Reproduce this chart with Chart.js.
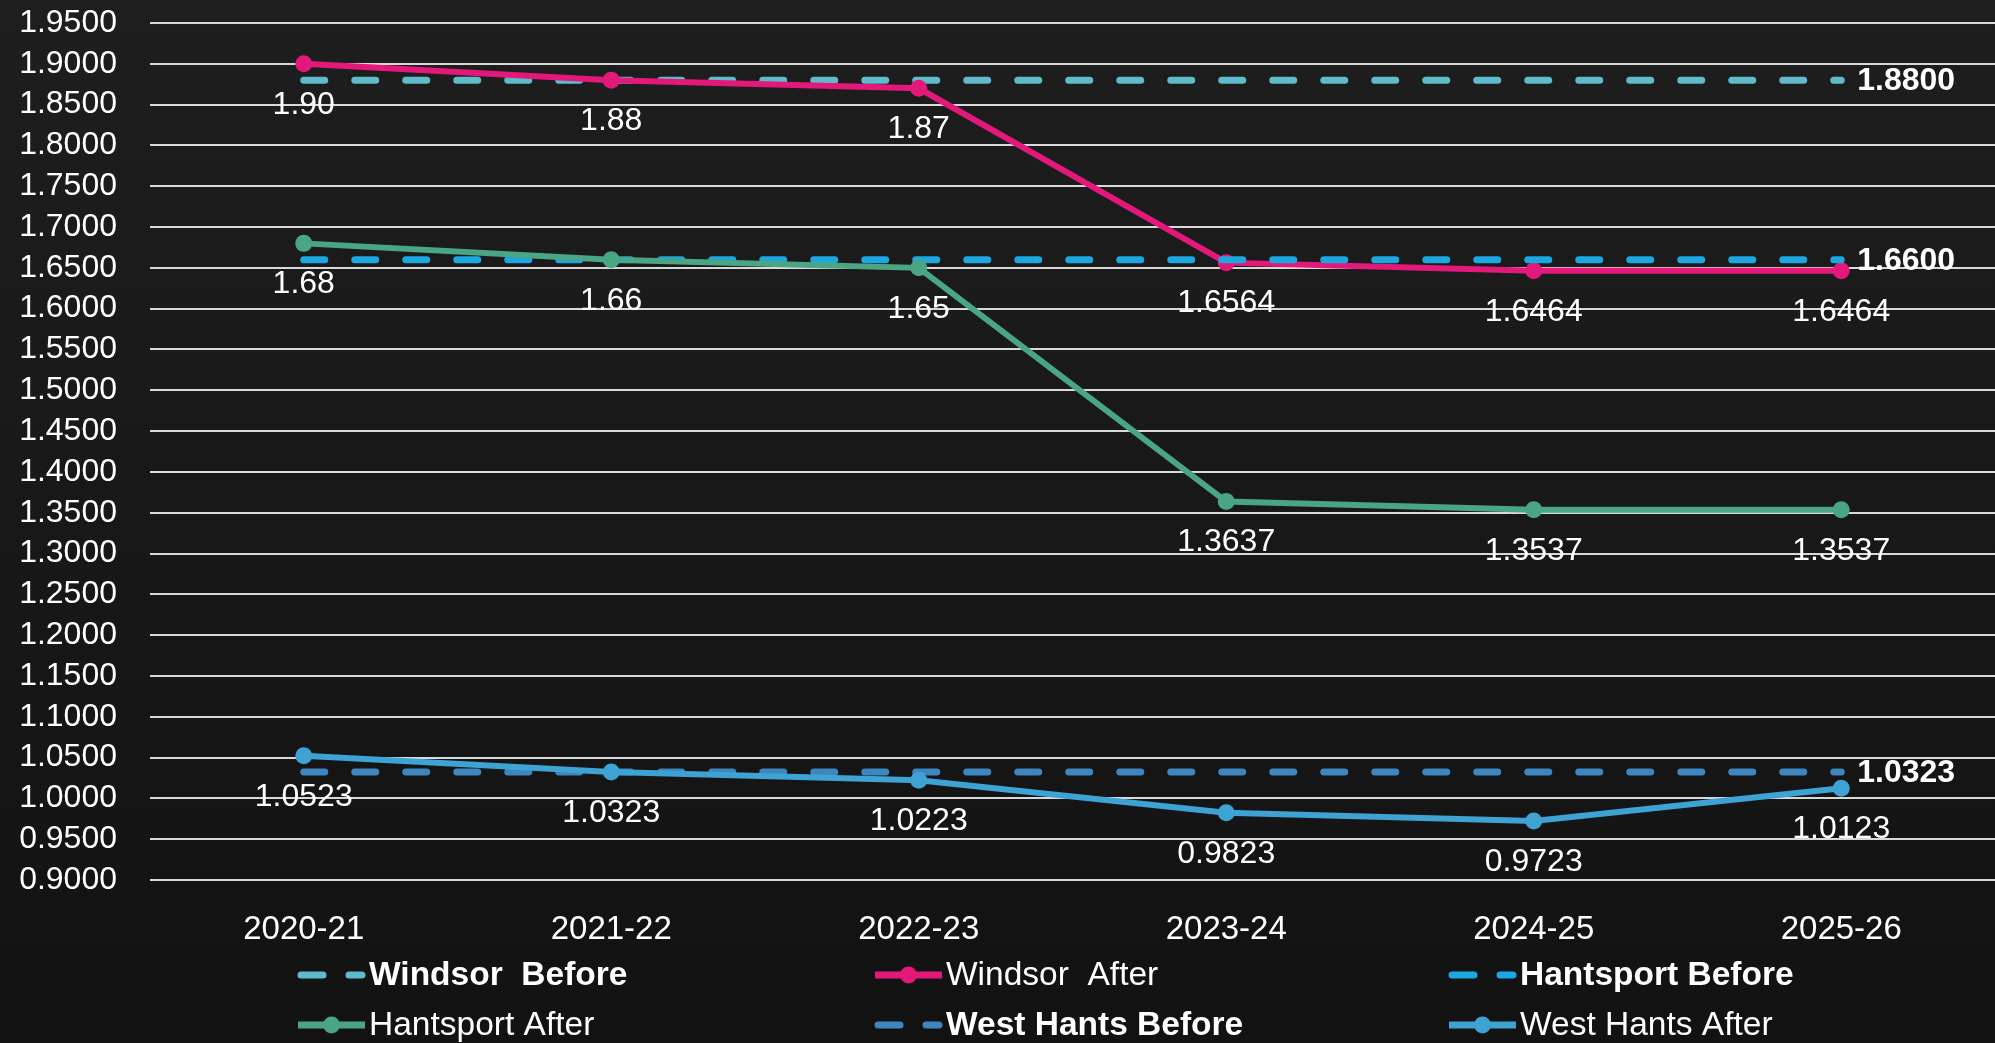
<!DOCTYPE html>
<html>
<head>
<meta charset="utf-8">
<script src="https://cdn.jsdelivr.net/npm/chart.js@4/dist/chart.umd.min.js"></script>
<style>
  html, body { margin: 0; padding: 0; background: #1a1a1a; overflow: hidden; }
  #wrap { width: 1995px; height: 1043px; }
</style>
</head>
<body>
<div id="wrap"><canvas id="c" width="1995" height="1043"></canvas></div>
<script>
// ---------- data ----------
const categories = ['2020-21', '2021-22', '2022-23', '2023-24', '2024-25', '2025-26'];

const windsorBefore = [1.88, 1.88, 1.88, 1.88, 1.88, 1.88];
const windsorAfter = [1.90, 1.88, 1.87, 1.6564, 1.6464, 1.6464];
const windsorAfterLabels = ['1.90', '1.88', '1.87', '1.6564', '1.6464', '1.6464'];

const hantsportBefore = [1.66, 1.66, 1.66, 1.66, 1.66, 1.66];
const hantsportAfter = [1.68, 1.66, 1.65, 1.3637, 1.3537, 1.3537];
const hantsportAfterLabels = ['1.68', '1.66', '1.65', '1.3637', '1.3537', '1.3537'];

const westHantsBefore = [1.0323, 1.0323, 1.0323, 1.0323, 1.0323, 1.0323];
const westHantsAfter = [1.0523, 1.0323, 1.0223, 0.9823, 0.9723, 1.0123];
const westHantsAfterLabels = ['1.0523', '1.0323', '1.0223', '0.9823', '0.9723', '1.0123'];

const beforeEndLabels = ['1.8800', '1.6600', '1.0323'];

const yMin = 0.9, yMax = 1.95, yStep = 0.05;

const seriesNames = ['Windsor  Before', 'Windsor  After', 'Hantsport Before', 'Hantsport After', 'West Hants Before', 'West Hants After'];
const seriesColors = ['#5fbac9', '#e2187b', '#1ca7e0', '#4aa584', '#3d86c0', '#3ea2d3'];

// ---------- datasets ----------
const FONT = '"Liberation Sans", Arial, sans-serif';

function beforeDs(i, data, endLabel) {
  return {
    label: seriesNames[i], data, kind: 'before', endLabel,
    borderColor: seriesColors[i], backgroundColor: seriesColors[i],
    borderWidth: 7, borderDash: [21, 30], borderCapStyle: 'round',
    pointRadius: 0, pointHoverRadius: 0, fill: false, tension: 0,
    order: 6 - i
  };
}
function afterDs(i, data, labels) {
  return {
    label: seriesNames[i], data, kind: 'after', labels,
    borderColor: seriesColors[i], backgroundColor: seriesColors[i],
    borderWidth: 6, pointRadius: 8.5, pointBorderWidth: 0,
    pointBackgroundColor: seriesColors[i], fill: false, tension: 0,
    order: 6 - i
  };
}

const datasets = [
  beforeDs(0, windsorBefore, beforeEndLabels[0]),
  afterDs(1, windsorAfter, windsorAfterLabels),
  beforeDs(2, hantsportBefore, beforeEndLabels[1]),
  afterDs(3, hantsportAfter, hantsportAfterLabels),
  beforeDs(4, westHantsBefore, beforeEndLabels[2]),
  afterDs(5, westHantsAfter, westHantsAfterLabels)
];

// ---------- plugins ----------
const bgPlugin = {
  id: 'bg',
  beforeDraw(chart) {
    const { ctx, width, height } = chart;
    const g = ctx.createLinearGradient(0, 0, 0, height);
    g.addColorStop(0, '#1e1e1e');
    g.addColorStop(1, '#121212');
    ctx.save();
    ctx.fillStyle = g;
    ctx.fillRect(0, 0, width, height);
    ctx.restore();
  }
};

const labelPlugin = {
  id: 'valueLabels',
  afterDatasetsDraw(chart) {
    const ctx = chart.ctx;
    ctx.save();
    chart.data.datasets.forEach((ds, di) => {
      const meta = chart.getDatasetMeta(di);
      if (ds.kind === 'after') {
        ctx.font = '32px ' + FONT;
        ctx.fillStyle = '#ffffff';
        ctx.textAlign = 'center';
        ctx.textBaseline = 'middle';
        meta.data.forEach((pt, j) => {
          ctx.fillText(ds.labels[j], pt.x, pt.y + 41);
        });
      } else {
        const pt = meta.data[meta.data.length - 1];
        ctx.font = 'bold 32px ' + FONT;
        ctx.fillStyle = '#ffffff';
        ctx.textAlign = 'left';
        ctx.textBaseline = 'middle';
        ctx.fillText(ds.endLabel, pt.x + 16, pt.y + 1);
      }
    });
    ctx.restore();
  }
};

const legendPlugin = {
  id: 'gridLegend',
  afterDraw(chart) {
    const ctx = chart.ctx;
    const colX = [298, 875, 1449];
    const rowY = [975, 1025];
    ctx.save();
    chart.data.datasets.forEach((ds, i) => {
      const x = colX[i % 3];
      const y = rowY[Math.floor(i / 3)];
      ctx.strokeStyle = ds.borderColor;
      ctx.fillStyle = ds.borderColor;
      ctx.lineCap = 'round';
      if (ds.kind === 'before') {
        ctx.lineWidth = 7;
        ctx.beginPath();
        ctx.moveTo(x + 3, y); ctx.lineTo(x + 25, y);
        ctx.moveTo(x + 51, y); ctx.lineTo(x + 64, y);
        ctx.stroke();
        ctx.font = 'bold 33.5px ' + FONT;
      } else {
        ctx.lineWidth = 7;
        ctx.lineCap = 'butt';
        ctx.beginPath();
        ctx.moveTo(x, y); ctx.lineTo(x + 67, y);
        ctx.stroke();
        ctx.beginPath();
        ctx.arc(x + 33.5, y, 8.5, 0, Math.PI * 2);
        ctx.fill();
        ctx.font = '33.5px ' + FONT;
      }
      ctx.fillStyle = '#ffffff';
      ctx.textAlign = 'left';
      ctx.textBaseline = 'middle';
      ctx.fillText(ds.label, x + 71, y + 1);
    });
    ctx.restore();
  }
};

// ---------- chart ----------
new Chart(document.getElementById('c'), {
  type: 'line',
  data: { labels: categories, datasets },
  options: {
    responsive: false,
    devicePixelRatio: 1,
    animation: false,
    events: [],
    layout: { autoPadding: false, padding: { left: 0, right: 0, top: 23, bottom: 93 } },
    plugins: { legend: { display: false }, tooltip: { enabled: false } },
    scales: {
      x: {
        offset: true,
        grid: { display: false, drawTicks: false },
        border: { display: false },
        ticks: { color: '#ffffff', font: { family: FONT, size: 33 }, padding: 30, maxRotation: 0, autoSkip: false },
        afterFit(s) { s.height = 70; s.paddingLeft = 0; s.paddingRight = 0; }
      },
      y: {
        min: yMin, max: yMax,
        grid: { color: '#d9d9d9', lineWidth: 2, drawTicks: false },
        border: { display: false },
        ticks: {
          stepSize: yStep, color: '#ffffff', padding: 33, autoSkip: false,
          font: { family: FONT, size: 32 },
          callback: v => Number(v).toFixed(4)
        },
        afterFit(s) { s.width = 150; s.paddingTop = 0; s.paddingBottom = 0; }
      }
    }
  },
  plugins: [bgPlugin, labelPlugin, legendPlugin]
});
</script>
</body>
</html>
